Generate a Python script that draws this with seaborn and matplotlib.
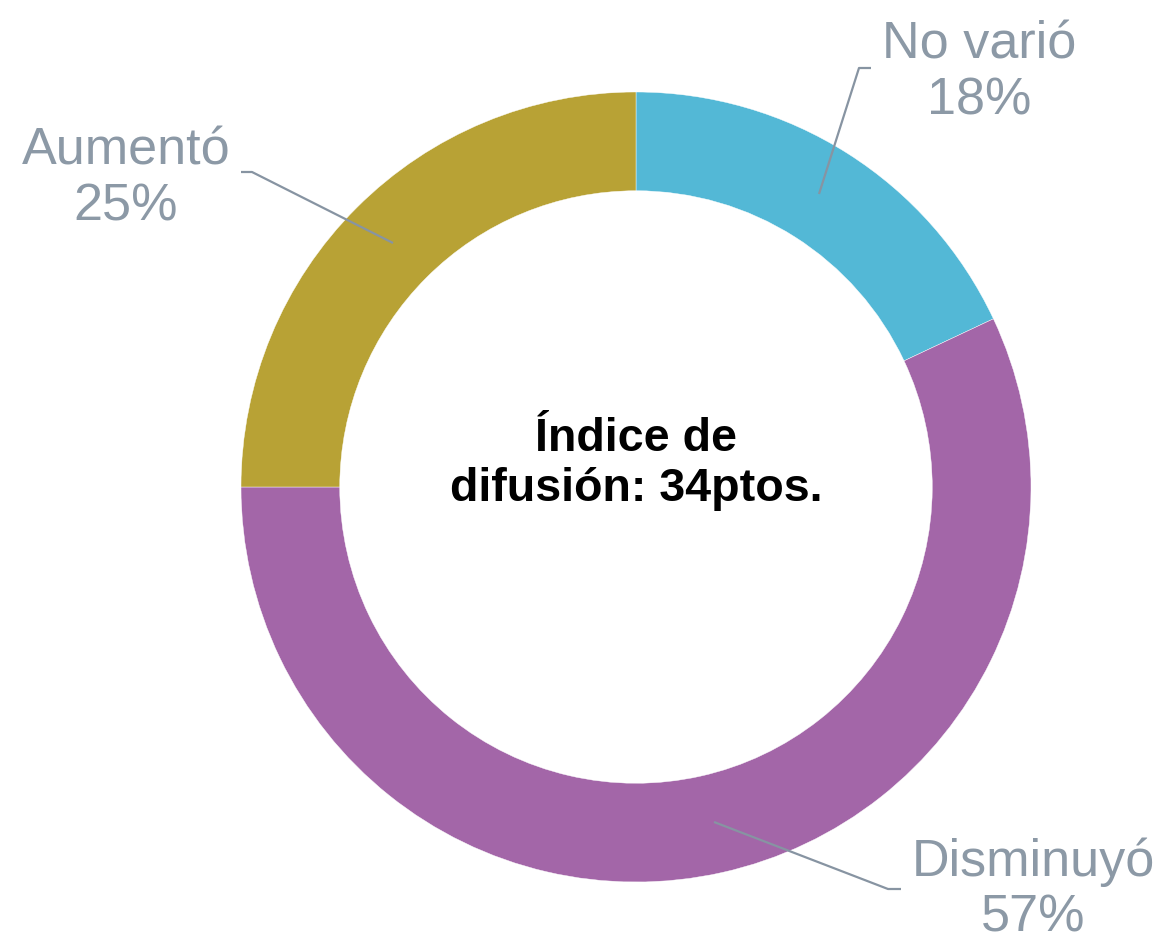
import matplotlib
matplotlib.use("Agg")
import matplotlib.pyplot as plt
import seaborn as sns

sns.set_theme(style="white")
plt.rcParams['font.family'] = ['Liberation Sans', 'DejaVu Sans']

# data
categories = ['No varió', 'Disminuyó', 'Aumentó']
shares = [18, 57, 25]
colors = ['#53B8D6', '#A366A8', '#B8A235']
center_label = 'Índice de\ndifusión: 34ptos.'

W, H = 1165, 945
fig = plt.figure(figsize=(W / 100, H / 100), dpi=100)
ax = fig.add_axes([0, 0, 1, 1])


def yy(y):
    # picture y (from top) -> axes y (from bottom)
    return H - y


cx, cy, r = 636, yy(488), 395
ax.pie(shares, colors=colors, startangle=90, counterclock=False,
       center=(cx, cy), radius=r, frame=True,
       wedgeprops=dict(width=r * 0.25, edgecolor='white', linewidth=0.3))
ax.set_xlim(0, W)
ax.set_ylim(0, H)
ax.set_aspect('equal')
ax.axis('off')

label_col = '#8C99A6'
line_col = '#8794A2'

# label anchor (text centre) and leader line points, picture coords
label_pos = [(979, 73), (1033, 890), (126, 179)]
leaders = [
    [(871, 69), (859, 69), (819, 195)],
    [(901, 890), (888, 890), (714, 823)],
    [(241, 173), (252, 173), (393, 244)],
]

for name, val, (lx, ly), pts in zip(categories, shares, label_pos, leaders):
    ax.text(lx, yy(ly), f'{name}\n{val}%', ha='center', va='center',
            fontsize=37.5, color=label_col, linespacing=1.18)
    xs = [p[0] for p in pts]
    ys = [yy(p[1]) for p in pts]
    ax.plot(xs, ys, color=line_col, lw=1.6, solid_capstyle='butt')

ax.text(cx, yy(464), center_label, ha='center', va='center',
        fontsize=33.6, fontweight='bold', color='black', linespacing=1.16)

fig.savefig('out.png', dpi=100, facecolor='white')
